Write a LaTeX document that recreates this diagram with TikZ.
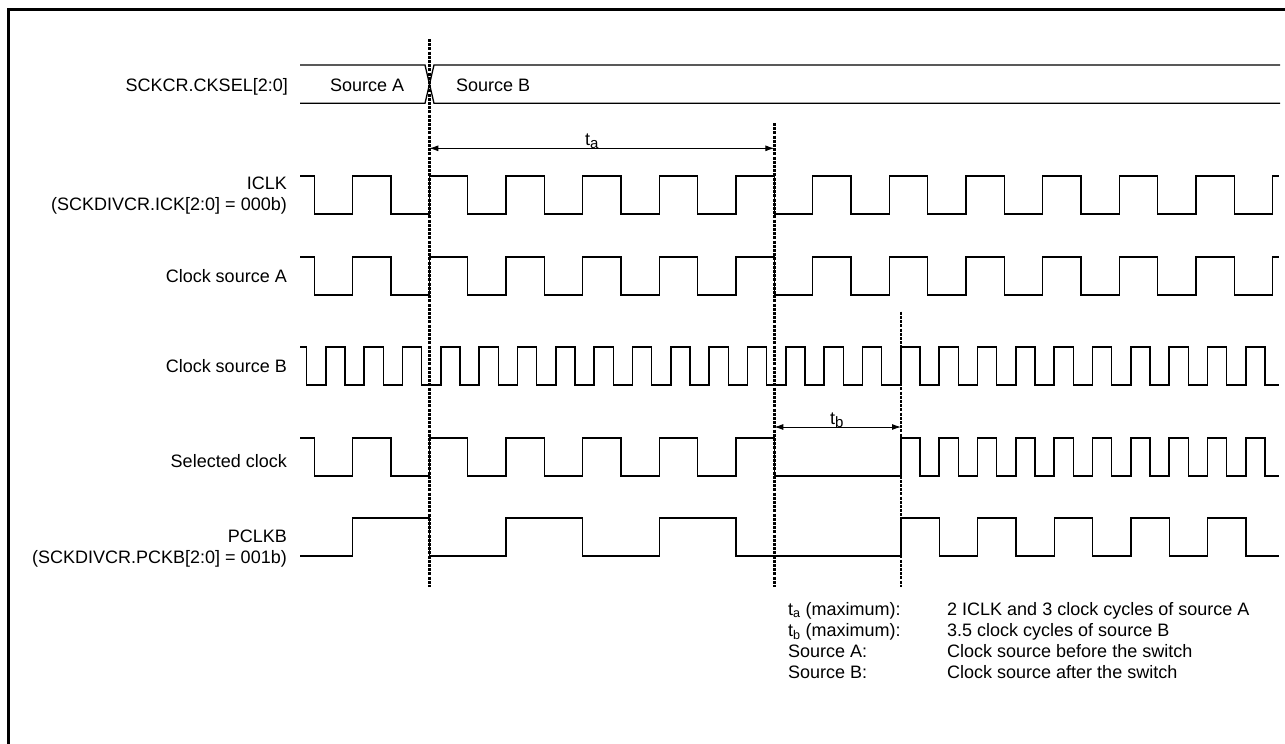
\documentclass[tikz,border=0pt]{standalone}
\usepackage{fontspec}
\setmainfont{Liberation Sans}
\usetikzlibrary{arrows.meta}
\newcommand{\bigsub}[1]{\raisebox{-3pt}{\fontsize{15}{15}\selectfont #1}}
\begin{document}
\begin{tikzpicture}[x=1pt,y=-1pt,
  wave/.style={line width=1.6pt, line join=miter},
  bus/.style={line width=1.3pt},
  frame/.style={line width=3pt},
  guide/.style={line width=2.4pt, dash pattern=on 3pt off 1.2pt},
  dim/.style={line width=0.9pt, {Latex[length=9pt,width=6pt]}-{Latex[length=9pt,width=6pt]}},
  lbl/.style={anchor=base east, inner sep=0pt, font=\fontsize{18}{21}\selectfont},
  txt/.style={anchor=base west, inner sep=0pt, font=\fontsize{18}{21}\selectfont}]
\useasboundingbox (0,0) rectangle (1285,744);
\fill[white] (0,0) rectangle (1285,744);
% frame (cropped on right and bottom)
\draw[frame] (8.3,744) -- (8.3,9.7) -- (1285,9.7);

% labels
\node[lbl] (lsel) at (288,91) {SCKCR.CKSEL[2:0]};
\node[lbl] (liclk) at (287,189) {ICLK};
\node[lbl] (liclk2) at (287,210) {(SCKDIVCR.ICK[2:0] = 000b)};
\node[lbl] (lca) at (287,282) {Clock source A};
\node[lbl] (lcb) at (287,372) {Clock source B};
\node[lbl] (lsc) at (287,467) {Selected clock};
\node[lbl] (lpc) at (287,542) {PCLKB};
\node[lbl] (lpc2) at (287,563) {(SCKDIVCR.PCKB[2:0] = 001b)};

% bus
\draw[bus] (300,65) -- (425,65) -- (434,103.3) -- (1280,103.3);
\draw[bus] (300,103.3) -- (425,103.3) -- (434,65) -- (1280,65);
\node[txt] (sa) at (330,91) {Source A};
\node[txt] (sb) at (456,91) {Source B};

% ICLK
\draw[wave] (300,176) -- (314.33,176)
  \foreach \i in {1,...,12} { -- ++(0,38) -- ++(38.333,0) -- ++(0,-38) -- ++(38.333,0) }
  -- ++(0,38) -- ++(38.333,0) -- ++(0,-38) -- (1279,176);
% Clock source A
\draw[wave] (300,256.7) -- (314.33,256.7)
  \foreach \i in {1,...,12} { -- ++(0,38) -- ++(38.333,0) -- ++(0,-38) -- ++(38.333,0) }
  -- ++(0,38) -- ++(38.333,0) -- ++(0,-38) -- (1279,256.7);
% Clock source B
\draw[wave] (300,346.7) -- (306.67,346.7)
  \foreach \i in {1,...,25} { -- ++(0,38.3) -- ++(19.1667,0) -- ++(0,-38.3) -- ++(19.1667,0) }
  -- ++(0,38.3) -- (1279,385);
% Selected clock
\draw[wave] (300,437.7) -- (314.33,437.7)
  \foreach \i in {1,...,6} { -- ++(0,38) -- ++(38.333,0) -- ++(0,-38) -- ++(38.333,0) }
  -- ++(0,38) -- (901,475.7) -- (901,437.7) -- (920,437.7)
  \foreach \i in {1,...,9} { -- ++(0,38) -- ++(19.1667,0) -- ++(0,-38) -- ++(19.1667,0) }
  -- ++(0,38) -- (1279,475.7);
% PCLKB
\draw[wave] (300,555.7) -- (352.67,555.7)
  \foreach \i in {1,2} { -- ++(0,-38) -- ++(76.667,0) -- ++(0,38) -- ++(76.667,0) }
  -- ++(0,-38) -- (736,517.7) -- (736,555.7) -- (901,555.7)
  \foreach \i in {1,...,4} { -- ++(0,-38) -- ++(38.333,0) -- ++(0,38) -- ++(38.333,0) }
  -- ++(0,-38) -- ++(38.333,0) -- ++(0,38) -- (1279,555.7);

% guide lines
\coordinate (d1t) at (429.3,39);
\coordinate (d1b) at (429.3,587);
\coordinate (d2t) at (774.3,123);
\coordinate (d2b) at (774.3,587);
\coordinate (d3t) at (901,311.7);
\coordinate (d3b) at (901,587);
\draw[guide] (d1t) -- (d1b);
\draw[guide] (d2t) -- (d2b);
\draw[guide] (d3t) -- (d3b);

% dimension arrows
\coordinate (taL) at (429.3,148.3);
\coordinate (taR) at (774.3,148.3);
\draw[dim] (taL) -- (taR);
\node[txt] (ta) at (585,145) {t\bigsub{a}};
\coordinate (tbL) at (774.3,427);
\coordinate (tbR) at (901,427);
\draw[dim] (tbL) -- (tbR);
\node[txt] (tb) at (830,424) {t\bigsub{b}};

% legend
\node[txt] (k1) at (788,615) {t\textsubscript{a} (maximum):};
\node[txt] (k2) at (788,636) {t\textsubscript{b} (maximum):};
\node[txt] (k3) at (788,657) {Source A:};
\node[txt] (k4) at (788,678) {Source B:};
\node[txt] (v1) at (947,615) {2 ICLK and 3 clock cycles of source A};
\node[txt] (v2) at (947,636) {3.5 clock cycles of source B};
\node[txt] (v3) at (947,657) {Clock source before the switch};
\node[txt] (v4) at (947,678) {Clock source after the switch};
\end{tikzpicture}
\end{document}
